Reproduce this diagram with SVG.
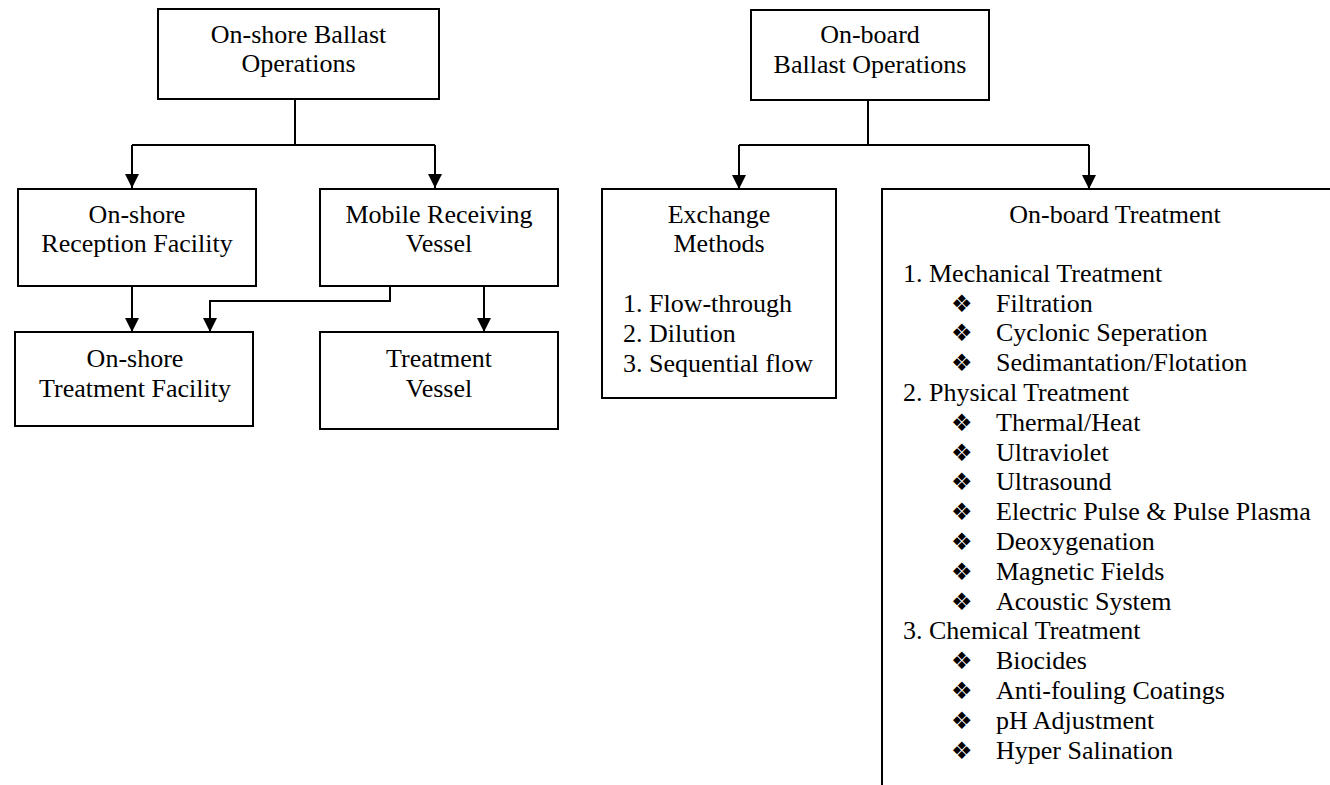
<svg xmlns="http://www.w3.org/2000/svg" width="1330" height="785" viewBox="0 0 1330 785">
<style>
.box{fill:#fff;stroke:#000;stroke-width:2}
.t{font-family:"Liberation Serif","Times New Roman",serif;font-size:26px;fill:#000}
.c{text-anchor:middle}
.b{font-family:"DejaVu Sans",sans-serif;font-size:24px;fill:#000}
.ln{fill:none;stroke:#000;stroke-width:2}
</style>
<defs>
<marker id="ah" viewBox="0 0 14 14" refX="14" refY="7" markerWidth="14" markerHeight="14" markerUnits="userSpaceOnUse" orient="auto">
<path d="M0,0 L14,7 L0,14 z" fill="#000"/>
</marker>
</defs>
<rect width="1330" height="785" fill="#fff"/>
<g id="connectors">
<path class="ln" d="M295,99 V145"/>
<path class="ln" d="M132,145 H435"/>
<path class="ln" d="M132,145 V188" marker-end="url(#ah)"/>
<path class="ln" d="M435,145 V188" marker-end="url(#ah)"/>
<path class="ln" d="M132,286 V332" marker-end="url(#ah)"/>
<path class="ln" d="M390,286 V301 H210 V332" marker-end="url(#ah)"/>
<path class="ln" d="M484,286 V332" marker-end="url(#ah)"/>
<path class="ln" d="M868,100 V145"/>
<path class="ln" d="M739,145 H1089"/>
<path class="ln" d="M739,145 V189" marker-end="url(#ah)"/>
<path class="ln" d="M1089,145 V189" marker-end="url(#ah)"/>
</g>
<g id="onshore-ops">
<rect class="box" x="158" y="9" width="281" height="90"/>
<text class="t c" x="298.5" y="43">On-shore Ballast</text>
<text class="t c" x="298.5" y="72">Operations</text>
</g>
<g id="onshore-reception">
<rect class="box" x="18" y="189" width="238" height="97"/>
<text class="t c" x="137" y="223">On-shore</text>
<text class="t c" x="137" y="252">Reception Facility</text>
</g>
<g id="mobile-vessel">
<rect class="box" x="320" y="189" width="238" height="97"/>
<text class="t c" x="439" y="223">Mobile Receiving</text>
<text class="t c" x="439" y="252">Vessel</text>
</g>
<g id="onshore-treatment">
<rect class="box" x="15" y="332" width="238" height="94"/>
<text class="t c" x="135" y="367">On-shore</text>
<text class="t c" x="135" y="397">Treatment Facility</text>
</g>
<g id="treatment-vessel">
<rect class="box" x="320" y="332" width="238" height="97"/>
<text class="t c" x="439" y="367">Treatment</text>
<text class="t c" x="439" y="397">Vessel</text>
</g>
<g id="onboard-ops">
<rect class="box" x="751" y="10" width="238" height="90"/>
<text class="t c" x="870" y="43">On-board</text>
<text class="t c" x="870" y="73">Ballast Operations</text>
</g>
<g id="exchange">
<rect class="box" x="602" y="189" width="234" height="209"/>
<text class="t c" x="719" y="223">Exchange</text>
<text class="t c" x="719" y="252">Methods</text>
<text class="t" x="623" y="312">1. Flow-through</text>
<text class="t" x="623" y="342">2. Dilution</text>
<text class="t" x="623" y="372">3. Sequential flow</text>
</g>
<g id="onboard-treatment">
<path class="ln" d="M1330,189 H882 V785"/>
<text class="t c" x="1115" y="223">On-board Treatment</text>
<text class="t" x="903" y="281.7">1. Mechanical Treatment</text>
<text class="b" x="951" y="311.5">❖</text><text class="t" x="996" y="311.5">Filtration</text>
<text class="b" x="951" y="341.3">❖</text><text class="t" x="996" y="341.3">Cyclonic Seperation</text>
<text class="b" x="951" y="371.1">❖</text><text class="t" x="996" y="371.1">Sedimantation/Flotation</text>
<text class="t" x="903" y="400.9">2. Physical Treatment</text>
<text class="b" x="951" y="430.7">❖</text><text class="t" x="996" y="430.7">Thermal/Heat</text>
<text class="b" x="951" y="460.5">❖</text><text class="t" x="996" y="460.5">Ultraviolet</text>
<text class="b" x="951" y="490.3">❖</text><text class="t" x="996" y="490.3">Ultrasound</text>
<text class="b" x="951" y="520.1">❖</text><text class="t" x="996" y="520.1">Electric Pulse &amp; Pulse Plasma</text>
<text class="b" x="951" y="549.9">❖</text><text class="t" x="996" y="549.9">Deoxygenation</text>
<text class="b" x="951" y="579.7">❖</text><text class="t" x="996" y="579.7">Magnetic Fields</text>
<text class="b" x="951" y="609.5">❖</text><text class="t" x="996" y="609.5">Acoustic System</text>
<text class="t" x="903" y="639.3">3. Chemical Treatment</text>
<text class="b" x="951" y="669.1">❖</text><text class="t" x="996" y="669.1">Biocides</text>
<text class="b" x="951" y="698.9">❖</text><text class="t" x="996" y="698.9">Anti-fouling Coatings</text>
<text class="b" x="951" y="728.7">❖</text><text class="t" x="996" y="728.7">pH Adjustment</text>
<text class="b" x="951" y="758.5">❖</text><text class="t" x="996" y="758.5">Hyper Salination</text>
</g>
</svg>
